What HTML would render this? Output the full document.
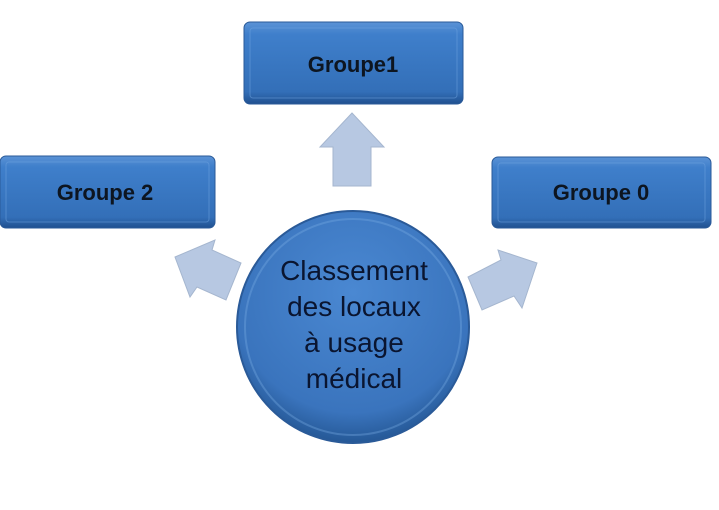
<!DOCTYPE html>
<html><head><style>
body{margin:0;background:#fff;width:719px;height:505px;overflow:hidden}
</style></head><body>
<svg width="719" height="505" viewBox="0 0 719 505" xmlns="http://www.w3.org/2000/svg">
<defs>
<linearGradient id="bx" x1="0" y1="0" x2="0" y2="1">
<stop offset="0" stop-color="#5b93d6"/><stop offset="0.15" stop-color="#3f7fcb"/><stop offset="0.85" stop-color="#336fb8"/><stop offset="1" stop-color="#20508f"/>
</linearGradient>
<radialGradient id="cg" cx="0.5" cy="0.35" r="0.65">
<stop offset="0" stop-color="#4a88d2"/><stop offset="0.8" stop-color="#3a74bd"/><stop offset="1" stop-color="#255896"/>
</radialGradient>
</defs>
<g font-family="Liberation Sans, sans-serif" font-weight="bold" font-size="22" fill="#0d1520" text-anchor="middle">
<rect x="244" y="22" width="219" height="82" rx="6" fill="url(#bx)" stroke="#2a5a98"/>
<rect x="250" y="28" width="207" height="70" rx="3" fill="none" stroke="#6fa3e0" stroke-opacity="0.5"/>
<text x="353" y="72">Groupe1</text>
<rect x="0" y="156" width="215" height="72" rx="6" fill="url(#bx)" stroke="#2a5a98"/>
<rect x="6" y="162" width="203" height="60" rx="3" fill="none" stroke="#6fa3e0" stroke-opacity="0.5"/>
<text x="105" y="200">Groupe 2</text>
<rect x="492" y="157" width="219" height="71" rx="6" fill="url(#bx)" stroke="#2a5a98"/>
<rect x="498" y="163" width="207" height="59" rx="3" fill="none" stroke="#6fa3e0" stroke-opacity="0.5"/>
<text x="601" y="200">Groupe 0</text>
</g>
<g fill="#b7c8e2" stroke="#a5b6cf" stroke-width="1">
<polygon points="352,113 384,147 371,147 371,186 333,186 333,147 320,147"/>
<polygon points="175,257 215,240 212,250 241,263 226,300 197,287 190,297"/>
<polygon points="537,263 498,250 501,260 468,277 482,310 514,296 522,308"/>
</g>
<circle cx="353" cy="327" r="116" fill="url(#cg)" stroke="#2a5a98" stroke-width="2"/>
<circle cx="353" cy="327" r="108" fill="none" stroke="#7aaee6" stroke-opacity="0.35" stroke-width="2"/>
<g font-family="Liberation Sans, sans-serif" font-size="28" fill="#0a1530" text-anchor="middle">
<text x="354" y="280">Classement</text>
<text x="354" y="316">des locaux</text>
<text x="354" y="352">à usage</text>
<text x="354" y="388">médical</text>
</g>
</svg>
</body></html>
